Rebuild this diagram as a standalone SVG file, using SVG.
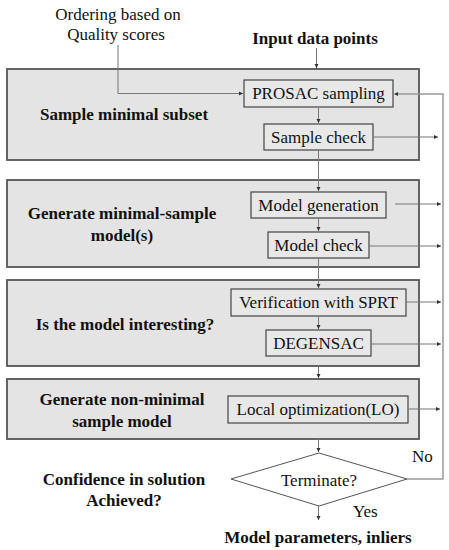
<svg xmlns="http://www.w3.org/2000/svg" width="449" height="550" viewBox="0 0 449 550">
<defs>
<marker id="ah" markerWidth="5" markerHeight="5" refX="4" refY="2.5" orient="auto" markerUnits="userSpaceOnUse">
<path d="M0,0.5 L4,2.5 L0,4.5 Z" fill="#333"/>
</marker>
</defs>
<style>
text{font-size:17px;fill:#111}
.b{font-weight:bold}
.m{text-anchor:middle}
.outer{fill:#e4e4e4;stroke:#555;stroke-width:1.8}
.inner{fill:#e8e8e8;stroke:#444;stroke-width:1.2}
.c{fill:none;stroke:#777;stroke-width:1;marker-end:url(#ah)}
.fb{fill:none;stroke:#999;stroke-width:1.5}
</style>
<rect width="449" height="550" fill="#fff"/>
<g font-family="Liberation Serif, DejaVu Serif, serif">
<g id="label-ordering">
<text class="m" x="118" y="20">Ordering based on</text>
<text class="m" x="116" y="40">Quality scores</text>
</g>
<g id="label-input"><text class="b m" x="315" y="44">Input data points</text></g>
<g id="stage1">
<rect class="outer" x="7" y="69" width="412" height="91"/>
<text class="b m" x="124" y="120">Sample minimal subset</text>
</g>
<g id="stage2">
<rect class="outer" x="7" y="180" width="412" height="87"/>
<text class="b m" x="122" y="219">Generate minimal-sample</text>
<text class="b m" x="122" y="241">model(s)</text>
</g>
<g id="stage3">
<rect class="outer" x="7" y="280" width="412" height="86"/>
<text class="b m" x="125" y="330">Is the model interesting?</text>
</g>
<g id="stage4">
<rect class="outer" x="7" y="379" width="412" height="60"/>
<text class="b m" x="122" y="405">Generate non-minimal</text>
<text class="b m" x="122" y="427">sample model</text>
</g>
<g id="prosac"><rect class="inner" x="244" y="80" width="149" height="27"/><text class="m" x="318.5" y="99">PROSAC sampling</text></g>
<g id="sample-check"><rect class="inner" x="264" y="124" width="109" height="26"/><text class="m" x="318.5" y="143">Sample check</text></g>
<g id="model-generation"><rect class="inner" x="251" y="192" width="135" height="26"/><text class="m" x="318.5" y="211">Model generation</text></g>
<g id="model-check"><rect class="inner" x="268" y="232" width="101" height="26"/><text class="m" x="318.5" y="251">Model check</text></g>
<g id="sprt"><rect class="inner" x="231" y="289" width="175" height="27"/><text class="m" x="318.5" y="308">Verification with SPRT</text></g>
<g id="degensac"><rect class="inner" x="266" y="330" width="105" height="26"/><text class="m" x="318.5" y="349">DEGENSAC</text></g>
<g id="lo"><rect class="inner" x="228" y="396" width="180" height="27"/><text class="m" x="318" y="415">Local optimization(LO)</text></g>
<g id="terminate">
<polygon points="231,479 319,453 407,479 319,506" fill="#fff" stroke="#555" stroke-width="1"/>
<text class="m" x="319" y="486">Terminate?</text>
</g>
<g id="label-confidence">
<text class="b m" x="124" y="485">Confidence in solution</text>
<text class="b m" x="124" y="506">Achieved?</text>
</g>
<g id="label-output"><text class="b m" x="318" y="543">Model parameters, inliers</text></g>
<g id="connectors">
<path class="c" d="M316.5,48 V68"/>
<path class="c" d="M118,45 V93.5 H243"/>
<path class="c" d="M318.5,107 V123"/>
<path class="c" d="M373,137 H438"/>
<path class="c" d="M318.5,150 V191"/>
<path class="c" d="M395,204 H441"/>
<path class="c" d="M318.5,218 V231"/>
<path class="c" d="M369,246 H441"/>
<path class="c" d="M318.5,258 V288"/>
<path class="c" d="M406,302 H441"/>
<path class="c" d="M318.5,316 V329"/>
<path class="c" d="M371,344 H441"/>
<path class="c" d="M318.5,366 V378"/>
<path class="c" d="M408,409 H440"/>
<path class="c" d="M318.5,439 V452"/>
<path class="c" d="M318.5,506 V520"/>
<path class="fb" d="M407,479 H443 V94 H395"/>
<path d="M394,94 L398,92 L398,96 Z" fill="#333"/>
<text x="412" y="462">No</text>
<text x="353" y="517">Yes</text>
</g>
</g>
</svg>
